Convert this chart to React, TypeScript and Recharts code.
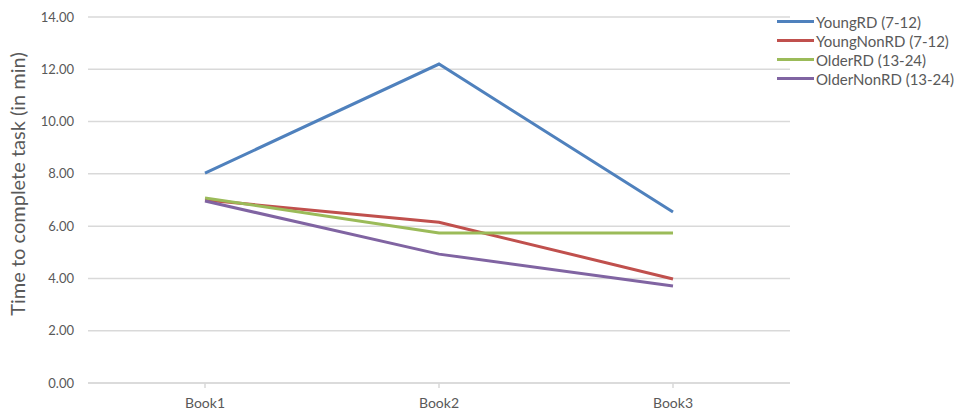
import { LineChart, Line, CartesianGrid, XAxis, YAxis } from "recharts";

const books = ["Book1", "Book2", "Book3"];
const youngRD = [8.03, 12.2, 6.54];
const youngNonRD = [7.0, 6.15, 3.98];
const olderRD = [7.08, 5.74, 5.74];
const olderNonRD = [6.96, 4.93, 3.71];
const yTicks = [0, 2, 4, 6, 8, 10, 12, 14];

const series = [
  { key: "youngRD", name: "YoungRD (7-12)", color: "#4f81bd", values: youngRD },
  { key: "youngNonRD", name: "YoungNonRD (7-12)", color: "#c0504d", values: youngNonRD },
  { key: "olderRD", name: "OlderRD (13-24)", color: "#9bbb59", values: olderRD },
  { key: "olderNonRD", name: "OlderNonRD (13-24)", color: "#8064a2", values: olderNonRD },
];

const chartData = books.map((book, i) => {
  const row: Record<string, string | number> = { book };
  series.forEach((s) => {
    row[s.key] = s.values[i];
  });
  return row;
});

const font = "Lato, 'Open Sans', sans-serif";
const textColor = "#595959";
const gridColor = "#d9d9d9";

function YLabel() {
  return (
    <text
      x={0}
      y={0}
      transform="translate(25, 184) rotate(-90)"
      textAnchor="middle"
      fill={textColor}
      fontSize={20}
      fontFamily={font}
    >
      Time to complete task (in min)
    </text>
  );
}

function App() {
  return (
    <div
      style={{
        position: "absolute",
        left: 0,
        top: 0,
        width: 954,
        height: 418,
        background: "#fff",
        fontFamily: font,
      }}
    >
      <LineChart
        width={954}
        height={418}
        data={chartData}
        margin={{ top: 17, right: 164, bottom: 0, left: 0 }}
      >
        <CartesianGrid vertical={false} stroke={gridColor} strokeWidth={1.5} />
        <XAxis
          dataKey="book"
          height={35}
          padding={{ left: 117, right: 117 }}
          stroke={gridColor}
          strokeWidth={1.5}
          tickSize={5}
          tickMargin={10}
          tick={{ fill: textColor, fontSize: 14, fontFamily: font }}
        />
        <YAxis
          width={88}
          domain={[0, 14]}
          ticks={yTicks}
          axisLine={false}
          tickLine={false}
          tickMargin={8}
          tickFormatter={(v: number) => v.toFixed(2)}
          tick={{ fill: textColor, fontSize: 13, fontFamily: font }}
          label={<YLabel />}
        />
        {series.map((s) => (
          <Line
            key={s.key}
            type="linear"
            dataKey={s.key}
            name={s.name}
            stroke={s.color}
            strokeWidth={3}
            dot={false}
            isAnimationActive={false}
          />
        ))}
      </LineChart>
      <div style={{ position: "absolute", left: 777, top: 12 }}>
        {series.map((s) => (
          <div
            key={s.key}
            style={{ display: "flex", alignItems: "center", height: 19 }}
          >
            <div style={{ width: 37, height: 3, background: s.color, marginRight: 2 }} />
            <span style={{ fontSize: 15, color: textColor, whiteSpace: "nowrap" }}>
              {s.name}
            </span>
          </div>
        ))}
      </div>
    </div>
  );
}

export default App;
